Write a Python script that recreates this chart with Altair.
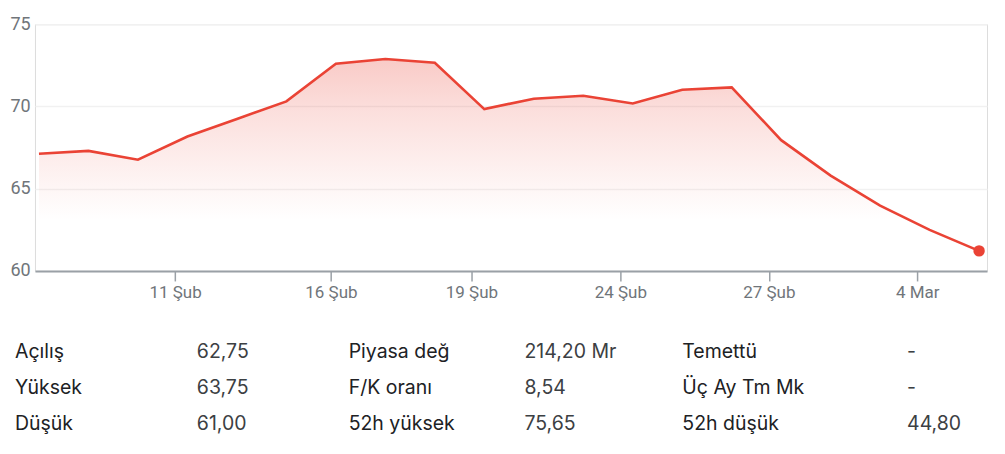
import altair as alt
import pandas as pd

# ---- data ----
prices = [67.12, 67.30, 66.76, 68.17, 69.24, 70.31, 72.60, 72.88, 72.66, 69.84,
          70.47, 70.65, 70.18, 71.02, 71.16, 67.95, 65.80, 63.97, 62.50, 61.22]
tick_pos = [2.75, 5.9, 8.74, 11.75, 14.75, 17.75]
tick_labels = ["11 Şub", "16 Şub", "19 Şub", "24 Şub", "27 Şub", "4 Mar"]
y_ticks = [60, 65, 70, 75]

stat_labels_1 = ["Açılış", "Yüksek", "Düşük"]
stat_values_1 = ["62,75", "63,75", "61,00"]
stat_labels_2 = ["Piyasa değ", "F/K oranı", "52h yüksek"]
stat_values_2 = ["214,20 Mr", "8,54", "75,65"]
stat_labels_3 = ["Temettü", "Üç Ay Tm Mk", "52h düşük"]
stat_values_3 = ["-", "-", "44,80"]

df = pd.DataFrame({"i": list(range(len(prices))), "price": prices})
df_last = df.tail(1)

label_expr = "{" + ",".join(f"'{p}':'{l}'" for p, l in zip(tick_pos, tick_labels)) + "}[datum.value]"

RED = "#ea4335"
FONT = "Roboto"
TFONT = "Inter"

x_scale = alt.Scale(domain=[-0.081, 19.16], nice=False, zero=False)
y_scale = alt.Scale(domain=[60, 75], nice=False, zero=False)

x_enc = alt.X("i:Q", scale=x_scale,
              axis=alt.Axis(values=tick_pos, labelExpr=label_expr, title=None, grid=False,
                            domainColor="#9aa0a6", domainWidth=2, tickColor="#9aa0a6",
                            tickWidth=1.5, tickSize=10, labelPadding=4, labelFontSize=17,
                            labelColor="#70757a", labelFont=FONT, labelFlush=False))
y_enc = alt.Y("price:Q", scale=y_scale,
              axis=alt.Axis(values=y_ticks, title=None, grid=True, gridColor="#f1f1f1",
                            gridWidth=1.5, domain=False, ticks=False, tickSize=0,
                            labelAlign="left", labelPadding=25, labelBaseline="middle",
                            labelFontSize=18, labelColor="#70757a", labelFont=FONT))

base = alt.Chart(df)

area = base.mark_area(
    line=False,
    fill=alt.Gradient(
        gradient="linear", x1=0, y1=0, x2=0, y2=1,
        stops=[
            alt.GradientStop(color="rgba(234,67,53,0.28)", offset=0),
            alt.GradientStop(color="rgba(234,67,53,0.17)", offset=0.25),
            alt.GradientStop(color="rgba(234,67,53,0.05)", offset=0.6),
            alt.GradientStop(color="rgba(234,67,53,0.0)", offset=0.76),
        ],
    ),
).encode(x=x_enc, y=y_enc, y2=alt.datum(60))

line = base.mark_line(color=RED, strokeWidth=2.6).encode(x=alt.X("i:Q", scale=x_scale), y=alt.Y("price:Q", scale=y_scale))
dot = alt.Chart(df_last).mark_point(filled=True, color=RED, size=130, opacity=1).encode(
    x=alt.X("i:Q", scale=x_scale), y=alt.Y("price:Q", scale=y_scale))

main = alt.layer(area, line, dot)

# ---- stats table ----
rows = []
for col, (labs, vals) in enumerate([(stat_labels_1, stat_values_1),
                                     (stat_labels_2, stat_values_2),
                                     (stat_labels_3, stat_values_3)]):
    for r, (l, v) in enumerate(zip(labs, vals)):
        rows.append({"group": col, "row": r, "label": l, "value": v})
tdf = pd.DataFrame(rows)

row_scale = alt.Scale(domain=[0, 2], range=[334, 406])
label_x = [-20, 314, 648]
value_x = [162, 490, 873]

table_layers = []
for g in range(3):
    sub = alt.Chart(tdf).transform_filter(alt.datum.group == g)
    table_layers.append(sub.mark_text(align="left", baseline="alphabetic", font=TFONT,
                                      fontSize=19.5, color="#202124").encode(
        x=alt.value(label_x[g]), y=alt.Y("row:Q", scale=row_scale, axis=None), text="label:N"))
    table_layers.append(sub.mark_text(align="left", baseline="alphabetic", font=TFONT,
                                      fontSize=19.5, color="#3c4043").encode(
        x=alt.value(value_x[g]), y=alt.Y("row:Q", scale=row_scale, axis=None), text="value:N"))

table = alt.layer(*table_layers)

chart = alt.layer(main, table).resolve_scale(y="independent").properties(
    width=953, height=247,
    autosize=alt.AutoSizeParams(type="none"),
    padding={"left": 27, "top": 16, "right": 10, "bottom": 170},
).configure_view(stroke=None).configure(background="white")

chart.save("out.html", embed_options={"renderer": "svg", "actions": False})
